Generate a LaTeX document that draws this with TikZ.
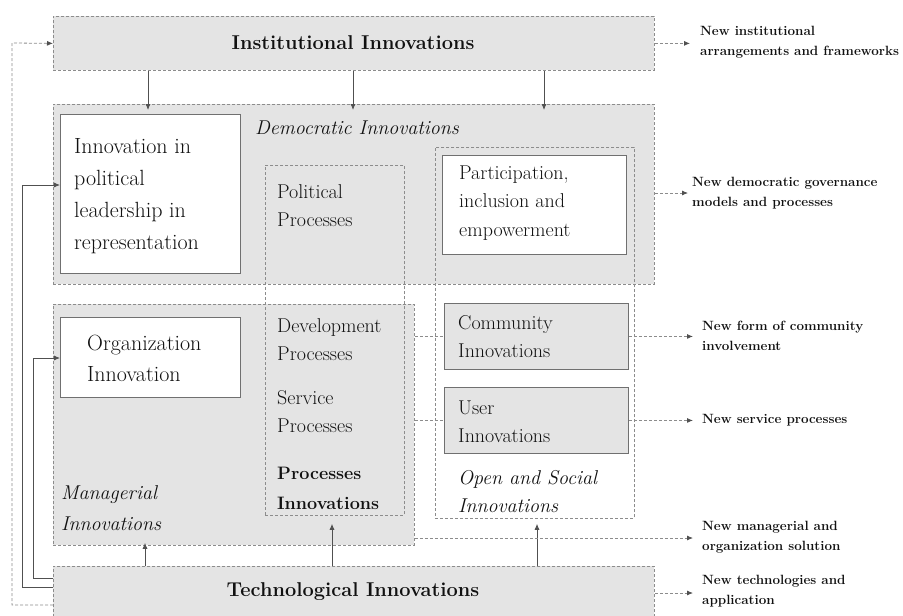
\documentclass[tikz,border=0pt]{standalone}
\usepackage{fontspec}
\usetikzlibrary{arrows.meta}

\definecolor{boxfill}{HTML}{E4E4E4}
\definecolor{dashgray}{HTML}{8C8C8C}
\definecolor{edgegray}{HTML}{707070}
\definecolor{linegray}{HTML}{505050}
\definecolor{inkgray}{HTML}{111111}

\tikzset{
  dashline/.style={draw=dashgray, line width=0.8pt, dash pattern=on 3pt off 2pt},
  region/.style={dashline, fill=boxfill, inner sep=0pt, anchor=north west},
  frame/.style={dashline, inner sep=0pt, anchor=north west},
  whitebox/.style={draw=edgegray, line width=0.9pt, fill=white, inner sep=0pt, anchor=north west},
  graybox/.style={draw=edgegray, line width=0.9pt, fill=boxfill, inner sep=0pt, anchor=north west},
  lbl/.style={anchor=west, align=left, inner sep=0pt, text=inkgray},
  outlbl/.style={lbl, font=\bfseries\fontsize{13.4}{19.5}\selectfont},
  title/.style={text=inkgray, font=\bfseries\fontsize{20}{24}\selectfont},
  tip/.style={-{Latex[length=6pt,width=5pt,color=linegray]}},
  solidarrow/.style={draw=linegray, line width=0.8pt, tip},
  dasharrow/.style={dashline, tip},
}

\begin{document}
\begin{tikzpicture}[x=1pt, y=-1pt]
\useasboundingbox (0,0) rectangle (903,616);
\clip (0,0) rectangle (903,616);

% shaded regions
\node[region, minimum width=601pt, minimum height=54pt] (inst) at (53,16) {};
\node[region, minimum width=601pt, minimum height=180pt] (dem) at (53,104) {};
\node[region, minimum width=361pt, minimum height=241pt] (mgr) at (53,304) {};
\node[region, minimum width=601pt, minimum height=80pt] (tech) at (53,566) {};

% open dashed groupings
\node[frame, minimum width=139pt, minimum height=350pt] (proc) at (265,165) {};
\node[frame, minimum width=199pt, minimum height=371pt] (open) at (435,147) {};

% inner boxes
\node[whitebox, minimum width=180pt, minimum height=159pt] (lead) at (60,114) {};
\node[whitebox, minimum width=180pt, minimum height=80pt] (org) at (60,317) {};
\node[whitebox, minimum width=184pt, minimum height=99pt] (part) at (442,155) {};
\node[graybox, minimum width=184pt, minimum height=66pt] (comm) at (444,303) {};
\node[graybox, minimum width=184pt, minimum height=66pt] (user) at (444,387) {};

% titles
\node[title] (instT) at (353,43) {Institutional Innovations};
\node[title] (techT) at (353,592) {Technological Innovations};

% box texts
\node[lbl, font=\fontsize{22}{32}\selectfont] (leadT) at (74,196) {Innovation in\\political\\leadership in\\representation};
\node[lbl, font=\fontsize{22}{31}\selectfont] (orgT) at (87,358) {Organization\\Innovation};
\node[lbl, font=\itshape\fontsize{20}{24}\selectfont] (demT) at (255,128) {Democratic Innovations};
\node[lbl, font=\itshape\fontsize{20}{31}\selectfont] (mgrT) at (61,508) {Managerial\\Innovations};
\node[lbl, font=\itshape\fontsize{20}{28}\selectfont] (openT) at (458,492) {Open and Social\\Innovations};
\node[lbl, font=\fontsize{20}{28}\selectfont] (polT) at (277,206) {Political\\Processes};
\node[lbl, font=\fontsize{20}{28}\selectfont] (devT) at (277,340) {Development\\Processes};
\node[lbl, font=\fontsize{20}{28}\selectfont] (servT) at (277,412) {Service\\Processes};
\node[lbl, font=\bfseries\fontsize{18}{30}\selectfont] (procT) at (277,488) {Processes\\Innovations};
\node[lbl, font=\fontsize{20}{28.5}\selectfont] (partT) at (459,203) {Participation,\\inclusion and\\empowerment};
\node[lbl, font=\fontsize{20}{28}\selectfont] (commT) at (458,337) {Community\\Innovations};
\node[lbl, font=\fontsize{20}{28}\selectfont] (userT) at (458,422) {User\\Innovations};

% outcome labels
\node[outlbl] (outInst) at (700,42) {New institutional\\arrangements and frameworks};
\node[outlbl] (outDem) at (692,193) {New democratic governance\\models and processes};
\node[outlbl] (outComm) at (702,336) {New form of community\\involvement};
\node[outlbl] (outUser) at (702,420) {New service processes};
\node[outlbl] (outMgr) at (702,537) {New managerial and\\organization solution};
\node[outlbl] (outTech) at (702,591) {New technologies and\\application};

% institutional -> democratic
\foreach \xx in {148,353,544}
  \draw[solidarrow, shorten >=-6pt] (inst.south -| \xx,0) -- (dem.north -| \xx,0);

% technological -> upper groups
\draw[solidarrow, shorten >=-3pt] (tech.north -| 145,0) -- (mgr.south -| 145,0);
\draw[solidarrow, shorten >=8pt] (tech.north -| 332,0) -- (proc.south -| 332,0);
\draw[solidarrow, shorten >=5pt] (tech.north -| 537,0) -- (open.south -| 537,0);

% technological -> left-side boxes
\draw[solidarrow] (tech.west |- 0,578) -- (33,578) -- (33,358) -- (org.west |- 0,358);
\draw[solidarrow] (tech.west |- 0,587) -- (22,587) -- (22,185) -- (lead.west |- 0,185);

% feedback loop technological -> institutional
\draw[dasharrow] (tech.west |- 0,605) -- (12,605) -- (12,43) -- (inst.west);

% managerial links to community and user innovations
\draw[dashline] (mgr.east |- comm.west) -- (comm.west);
\draw[dashline] (mgr.east |- user.west) -- (user.west);

% outcome arrows
\draw[dasharrow, shorten >=10pt] (inst.east) -- (outInst.west |- inst.east);
\draw[dasharrow, shorten >=4pt] (dem.east |- outDem.west) -- (outDem.west);
\draw[dasharrow, shorten >=9pt] (comm.east) -- (outComm.west |- comm.east);
\draw[dasharrow, shorten >=9pt] (user.east) -- (outUser.west |- user.east);
\draw[dasharrow, shorten >=9pt] (mgr.east |- 0,538) -- (outMgr.west |- 0,538);
\draw[dasharrow, shorten >=9pt] (tech.east |- 0,593) -- (outTech.west |- 0,593);
\end{tikzpicture}
\end{document}
